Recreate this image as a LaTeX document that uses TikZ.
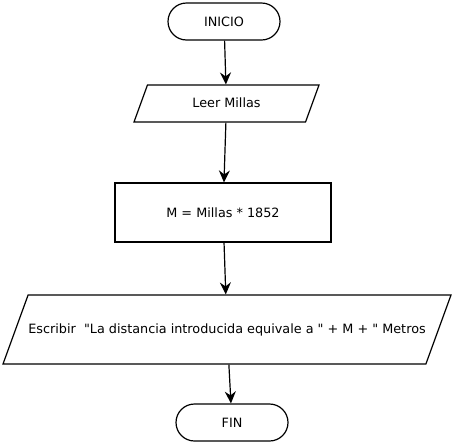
\documentclass[tikz,border=0pt]{standalone}
\usepackage{fontspec}
\setmainfont{DejaVu Sans}
\usetikzlibrary{arrows.meta}
\usetikzlibrary{shapes.geometric,shapes.misc}
\tikzstyle{terminal}=[draw,rounded rectangle,minimum width=114pt,minimum height=37pt,inner sep=1pt]
\tikzstyle{io}=[draw,trapezium,trapezium left angle=70,trapezium right angle=110,trapezium stretches body=true,text height=10pt,text depth=3pt,inner xsep=2pt]
\tikzstyle{process}=[draw,rectangle,minimum width=216pt,minimum height=59pt,inner sep=1pt]
\newcommand{\dq}{\textquotedbl}

\begin{document}
\begin{tikzpicture}[x=1pt,y=-1pt,line width=1.2pt,>={Stealth[length=12pt,width=11pt,inset=4pt]},font=\fontsize{12.8}{15}\selectfont]
\useasboundingbox (0,0) rectangle (454,445);
    \node [terminal] (ini) at (224,21.5) {INICIO};
    \node [io,minimum width=185pt,inner ysep=12pt] (leer) at (226.5,103.5) {Leer Millas};
    \node [process] (calc) at (223,212.5) {M = Millas * 1852};
    \node [io,minimum width=448pt,inner ysep=28pt,inner xsep=0pt] (esc) at (227,329.5)
      {Escribir\ \ \dq La distancia introducida equivale a \dq{} + M + \dq{} Metros};
    \node [terminal] (fin) at (232,422.5) {FIN};

\draw [->] (ini) -- (leer);
\draw [->] (leer) -- (calc);
\draw [->] (calc) -- (esc);
\draw [->] (esc) -- (fin);
\end{tikzpicture}
\end{document}
